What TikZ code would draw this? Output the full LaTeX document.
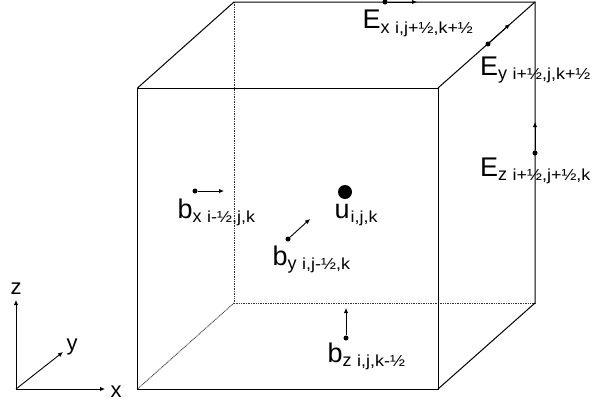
\documentclass[tikz,border=0pt]{standalone}
\usepackage{fontspec}
\setmainfont{Liberation Sans}
\usepackage{tikz}
\usetikzlibrary{positioning, arrows.meta, calc}

% Grid index, drawn a bit wide
\newcommand{\gridindex}[1]{{\fontsize{16}{16}\selectfont\raisebox{-4.5pt}{\scalebox{1.12}[1]{#1}}}}
% Big letter, component and grid index
\newcommand{\fieldlabel}[3]{{\fontsize{27}{27}\selectfont #1}{\fontsize{18}{18}\selectfont\raisebox{-4.5pt}{#2}}\hspace{5.5pt}\gridindex{#3}}

\begin{document}
\begin{tikzpicture}[
			x=1pt, y=-1pt,
			% --- Styles ---
			edgeline/.style={
				draw, line width=1pt, line cap=round
			},
			hiddenline/.style={
				draw, line width=0.8pt, dash pattern=on 1pt off 0.7pt, color=black!80
			},
			fieldarrow/.style={
				draw, line width=0.9pt, -{Latex[length=5pt, width=4.5pt]}
			},
			fielddot/.style={
				circle, fill=black, inner sep=0pt, minimum size=5pt
			},
			fieldtext/.style={
				anchor=base west, inner sep=0pt
			},
			axistext/.style={
				anchor=base west, inner sep=0pt, font=\fontsize{22}{22}\selectfont
			}
			]
			\useasboundingbox (0,0) rectangle (592,405);
			
			% --- 1. Cube corners ---
			\coordinate (front_nw) at (137.5,88);
			\coordinate (front_ne) at (438,88);
			\coordinate (front_sw) at (137.5,389);
			\coordinate (front_se) at (438,389);
			\coordinate (back_nw) at (234,2);
			\coordinate (back_ne) at (535,2);
			\coordinate (back_sw) at (234,303);
			\coordinate (back_se) at (535,303);
			
			% --- 2. Hidden edges ---
			\draw [hiddenline] (back_nw) -- (back_sw);
			\draw [hiddenline] (back_sw) -- (back_se);
			\draw [hiddenline] (back_sw) -- (front_sw);
			
			% --- 3. Visible edges ---
			\draw [edgeline] (front_nw) rectangle (front_se);
			\draw [edgeline] (front_nw) -- (back_nw) -- (back_ne) -- (back_se) -- (front_se);
			\draw [edgeline] (front_ne) -- (back_ne);
			
			% --- 4. Field points ---
			\node [fielddot] (ex) at (385,2) {};
			\node [fielddot] (ey) at (488,44) {};
			\node [fielddot] (ez) at (535,153) {};
			\node [fielddot] (bx) at (195,191) {};
			\node [fielddot] (by) at (288,239) {};
			\node [fielddot] (bz) at (346,338) {};
			\node [circle, fill=black, inner sep=0pt, minimum size=14pt] (u) at (345,192) {};
			
			% --- 5. Field arrows ---
			\coordinate (ex_tip) at (417,2);
			\coordinate (ey_tip) at (510,24);
			\coordinate (ez_tip) at (535,122);
			\coordinate (bx_tip) at (224,191);
			\coordinate (by_tip) at (310,219);
			\coordinate (bz_tip) at (346,308);
			\draw [fieldarrow] (ex) -- (ex_tip);
			\draw [fieldarrow] (ey) -- (ey_tip);
			\draw [fieldarrow] (ez) -- (ez_tip);
			\draw [fieldarrow] (bx) -- (bx_tip);
			\draw [fieldarrow] (by) -- (by_tip);
			\draw [fieldarrow] (bz) -- (bz_tip);
			
			% --- 6. Field labels ---
			\node [fieldtext] (ex_label) at (362.5,28.5) {\fieldlabel{E}{x}{i,j+½,k+½}};
			\node [fieldtext] (ey_label) at (480,75) {\fieldlabel{E}{y}{i+½,j,k+½}};
			\node [fieldtext] (ez_label) at (480,176) {\fieldlabel{E}{z}{i+½,j+½,k}};
			\node [fieldtext] (bx_label) at (177.5,218) {\fieldlabel{b}{x}{i-½,j,k}};
			\node [fieldtext] (by_label) at (272.5,265) {\fieldlabel{b}{y}{i,j-½,k}};
			\node [fieldtext] (bz_label) at (327.5,362) {\fieldlabel{b}{z}{i,j,k-½}};
			\node [fieldtext] (u_label) at (334.5,218) {{\fontsize{27}{27}\selectfont u}\hspace{1pt}\gridindex{i,j,k}};
			
			% --- 7. Axes ---
			\coordinate (origin) at (16,389);
			\coordinate (x_tip) at (105,389);
			\coordinate (y_tip) at (63,352);
			\coordinate (z_tip) at (16,300);
			\draw [fieldarrow] (origin) -- (x_tip);
			\draw [fieldarrow] (origin) -- (y_tip);
			\draw [fieldarrow] (origin) -- (z_tip);
			\node [axistext] (x_label) at (110.5,397) {x};
			\node [axistext] (y_label) at (66.5,350) {y};
			\node [axistext] (z_label) at (10.5,294) {z};
			
		\end{tikzpicture}
\end{document}
